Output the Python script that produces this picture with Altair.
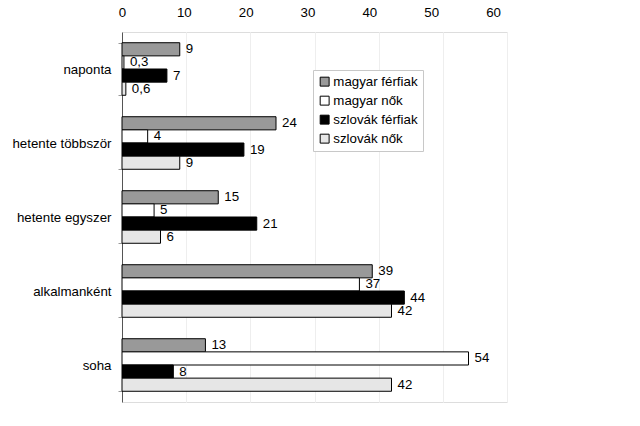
import altair as alt
import pandas as pd

categories = ["naponta", "hetente többször", "hetente egyszer", "alkalmanként", "soha"]
series = ["magyar férfiak", "magyar nők", "szlovák férfiak", "szlovák nők"]
magyar_ferfiak = [9, 24, 15, 39, 13]
magyar_nok = [0.3, 4, 5, 37, 54]
szlovak_ferfiak = [7, 19, 21, 44, 8]
szlovak_nok = [0.6, 9, 6, 42, 42]
colors = ["#999999", "#ffffff", "#000000", "#e6e6e6"]
tick_values = [0, 10, 20, 30, 40, 50, 60]

rows = []
for s, vals in zip(series, [magyar_ferfiak, magyar_nok, szlovak_ferfiak, szlovak_nok]):
    for c, v in zip(categories, vals):
        lab = (f"{v:g}").replace(".", ",")
        rows.append({"cat": c, "series": s, "value": v, "label": lab})
df = pd.DataFrame(rows)
ticks_df = pd.DataFrame({"t": tick_values})

FONT = "Liberation Sans"
FS = 13.3

y = alt.Y("cat:N", sort=categories, title=None,
          scale=alt.Scale(paddingInner=0.29, paddingOuter=0.145),
          axis=alt.Axis(labelFontSize=FS, labelColor="#000", labelPadding=7,
                        tickBand="extent", tickSize=4, tickColor="#999",
                        domainColor="#555", labelFont=FONT))
yoff = alt.YOffset("series:N", sort=series, scale=alt.Scale(paddingInner=0, paddingOuter=0))
x = alt.X("value:Q", title=None,
          scale=alt.Scale(domain=[0, 60], nice=False),
          axis=alt.Axis(orient="top", values=tick_values, labels=False,
                        domain=False, ticks=False,
                        grid=True, gridColor="#eeeeee"))

bars = alt.Chart(df).mark_bar(stroke="#000", strokeWidth=1).encode(
    y=y, yOffset=yoff, x=x,
    color=alt.Color("series:N", sort=series,
                    scale=alt.Scale(domain=series, range=colors),
                    legend=alt.Legend(title=None, orient="none", legendX=191, legendY=38,
                                      symbolType="square", symbolSize=80,
                                      symbolStrokeColor="#000", symbolStrokeWidth=1,
                                      labelFontSize=FS, labelFont=FONT,
                                      labelColor="#000", rowPadding=4,
                                      fillColor="#ffffff", strokeColor="#c8c8c8",
                                      padding=5, symbolOffset=0, labelOffset=2)),
)
texts = alt.Chart(df).mark_text(align="left", baseline="middle", dx=6, fontSize=FS,
                                font=FONT, color="#000").encode(
    y=y, yOffset=yoff, x=x, text="label:N")

top_axis = alt.Chart(ticks_df).mark_point(opacity=0).encode(
    x=alt.X("t:Q", title=None,
            scale=alt.Scale(domain=[0, 62.26], nice=False),
            axis=alt.Axis(orient="top", values=tick_values, labelFontSize=FS,
                          labelColor="#000", domain=False, ticks=False, labelPadding=13,
                          grid=False, labelFont=FONT, labelFlush=False)),
)

chart = alt.layer(bars, texts, top_axis).resolve_scale(x="independent").properties(
    width=385, height=370,
    autosize=alt.AutoSizeParams(type="none"),
    padding={"left": 122, "top": 32, "right": 133, "bottom": 24},
).configure_view(stroke="#888888", strokeWidth=1).configure(background="#ffffff")

chart.save("out.html", embed_options={"renderer": "svg", "actions": False})
